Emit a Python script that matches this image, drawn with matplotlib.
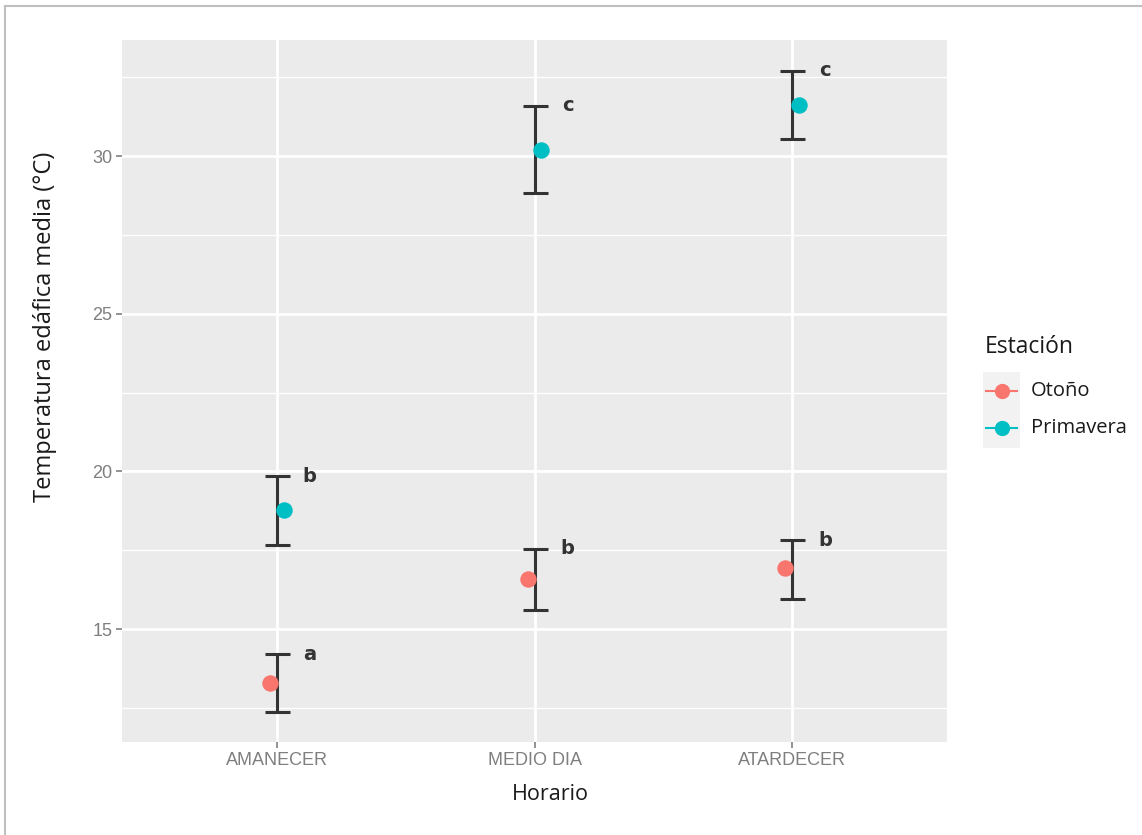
import matplotlib
matplotlib.use("Agg")
import matplotlib.pyplot as plt
from matplotlib.lines import Line2D
from matplotlib.patches import Rectangle
import numpy as np

# data
horarios = ["AMANECER", "MEDIO DIA", "ATARDECER"]
estaciones = ["Otoño", "Primavera"]
colores = ["#F8766D", "#00BFC4"]

media_otono = [13.29, 16.59, 16.93]
sup_otono = [14.21, 17.54, 17.82]
inf_otono = [12.37, 15.60, 15.95]

media_prim = [18.77, 30.19, 31.62]
sup_prim = [19.85, 31.59, 32.70]
inf_prim = [17.66, 28.83, 30.54]

letras_otono = ["a", "b", "b"]
letras_prim = ["b", "c", "c"]

plt.rcParams['font.family'] = ['Open Sans', 'DejaVu Sans']

fig = plt.figure(figsize=(11.42, 8.35), dpi=100)
ax = fig.add_axes([122 / 1142, 1 - 742 / 835, 825 / 1142, 702 / 835])
ax.set_facecolor("#EBEBEB")

x = np.arange(1, len(horarios) + 1)
medias = [media_otono, media_prim]
sups = [sup_otono, sup_prim]
infs = [inf_otono, inf_prim]
letras = [letras_otono, letras_prim]
desplaz = [-0.027, 0.027]

for i in range(2):
    m = np.array(medias[i])
    s = np.array(sups[i])
    b = np.array(infs[i])
    ax.errorbar(x, m, yerr=[m - b, s - m], fmt="none", ecolor="#333333",
                elinewidth=2.2, capsize=9, capthick=2.2, zorder=3)
    ax.scatter(x + desplaz[i], m, s=140, color=colores[i], zorder=4,
               linewidths=0)
    for xi, yi, t in zip(x, s, letras[i]):
        ax.text(xi + 0.128, yi + 0.0, t, fontsize=14, fontweight="bold",
                color="#333333", ha="center", va="center",
                family=["DejaVu Sans"])

ax.set_xlim(0.4, 3.6)
ax.set_ylim(11.42, 33.68)
ax.set_yticks([15, 20, 25, 30])
ax.set_yticks([12.5, 17.5, 22.5, 27.5, 32.5], minor=True)
ax.set_xticks(x)
ax.set_xticklabels(horarios)
ax.grid(True, which="major", color="white", linewidth=2)
ax.grid(True, which="minor", axis="y", color="white", linewidth=1)
ax.set_axisbelow(True)
for sp in ax.spines.values():
    sp.set_visible(False)
ax.tick_params(axis="both", which="major", length=4, width=1.2, color="#7F7F7F",
               labelcolor="#7F7F7F", labelsize=13, pad=3)
ax.tick_params(axis="y", which="minor", length=0)
for lab in ax.get_xticklabels() + ax.get_yticklabels():
    lab.set_family(["Liberation Sans Narrow", "Liberation Sans"])

fig.text(550 / 1142, 1 - 795 / 835, "Horario", fontsize=15.5, color="#1A1A1A",
         ha="center", va="center")
fig.text(45 / 1142, 1 - 327 / 835, "Temperatura edáfica media (°C)",
         fontsize=17, color="#1A1A1A", rotation=90, ha="center", va="center")

# legend drawn by hand to get the grey key boxes
fig.patches.append(Rectangle((983 / 1142, 1 - 448 / 835), 37 / 1142, 76 / 835,
                             transform=fig.transFigure, facecolor="#F2F2F2",
                             edgecolor="none"))
fig.text(985 / 1142, 1 - 347 / 835, "Estación", fontsize=16.5, color="#1A1A1A",
         ha="left", va="center")
for k, (nombre, col) in enumerate(zip(estaciones, colores)):
    yk = 1 - (391 + 37 * k) / 835
    fig.add_artist(Line2D([986 / 1142, 1017 / 1142], [yk, yk], color=col,
                          linewidth=1.5, transform=fig.transFigure))
    fig.add_artist(Line2D([1001.5 / 1142], [yk], marker="o", markersize=11,
                          color=col, markeredgewidth=0, transform=fig.transFigure))
    fig.text(1031 / 1142, yk, nombre, fontsize=14.5, color="#1A1A1A",
             ha="left", va="center")

# thin frame at the left and top of the picture
fig.add_artist(Line2D([5 / 1142, 5 / 1142], [0, 1 - 6 / 835], color="#BFBFBF",
                      linewidth=1.5, transform=fig.transFigure))
fig.add_artist(Line2D([5 / 1142, 1], [1 - 6 / 835, 1 - 6 / 835], color="#BFBFBF",
                      linewidth=1.5, transform=fig.transFigure))

fig.savefig("out.png", dpi=100)
